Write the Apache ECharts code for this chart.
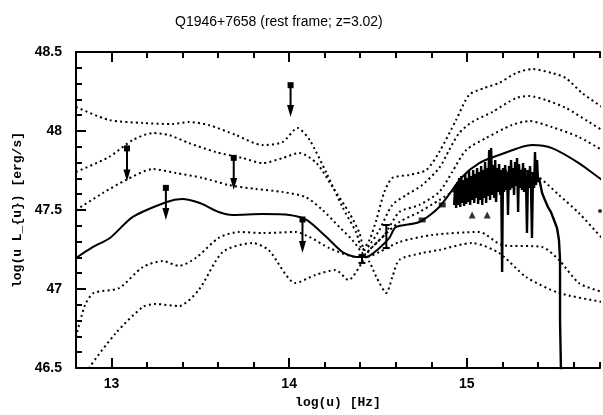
<!DOCTYPE html>
<html><head><meta charset="utf-8">
<script src="https://cdn.jsdelivr.net/npm/echarts@6/dist/echarts.min.js"></script>
<style>html,body{margin:0;padding:0;background:#fff}#c{width:603px;height:415px}</style>
</head><body><div id="c"></div>
<script>
const titleText = 'Q1946+7658 (rest frame; z=3.02)';
const xName = 'log(u) [Hz]';
const yName = 'log(u L_{u}) [erg/s]';
const xMajorTicks = [13, 14, 15];

const modelSolid = [[12.80,47.196],[12.896,47.266],[12.991,47.323],[13.12,47.456],[13.311,47.551],[13.396,47.570],[13.497,47.544],[13.603,47.487],[13.682,47.468],[13.85,47.474],[14.002,47.468],[14.098,47.437],[14.21,47.329],[14.30,47.234],[14.379,47.203],[14.435,47.203],[14.508,47.259],[14.564,47.323],[14.60,47.392],[14.733,47.424],[14.845,47.519],[14.974,47.709],[15.07,47.797],[15.182,47.848],[15.367,47.911],[15.48,47.892],[15.631,47.797],[15.761,47.69],[15.80,47.665]];

const modelA = [[12.80,48.152],[12.985,48.070],[13.176,48.051],[13.345,48.044],[13.435,48.057],[13.547,48.038],[13.699,47.975],[13.851,47.911],[13.963,47.930],[14.047,48.019],[14.115,47.943],[14.210,47.734],[14.300,47.519],[14.379,47.354],[14.412,47.247],[14.452,47.310],[14.491,47.437],[14.536,47.614],[14.581,47.703],[14.676,47.722],[14.772,47.753],[14.845,47.867],[14.940,48.070],[15.013,48.228],[15.098,48.272],[15.182,48.304],[15.278,48.367],[15.367,48.392],[15.480,48.367],[15.558,48.335],[15.648,48.241],[15.761,48.152],[15.80,48.12]];

const modelB = [[12.80,47.741],[12.985,47.835],[13.120,47.943],[13.233,47.987],[13.322,47.975],[13.435,47.924],[13.587,47.867],[13.738,47.829],[13.851,47.797],[13.963,47.829],[14.058,47.861],[14.154,47.797],[14.244,47.646],[14.339,47.481],[14.396,47.354],[14.424,47.247],[14.46,47.29],[14.508,47.373],[14.581,47.532],[14.660,47.595],[14.749,47.658],[14.845,47.766],[14.901,47.880],[14.957,47.987],[15.030,48.057],[15.143,48.120],[15.278,48.209],[15.351,48.222],[15.446,48.196],[15.558,48.146],[15.688,48.057],[15.761,48.006],[15.80,47.98]];

const modelC = [[12.80,47.500],[12.952,47.608],[13.081,47.690],[13.233,47.759],[13.362,47.734],[13.513,47.703],[13.660,47.658],[13.811,47.633],[13.963,47.614],[14.092,47.582],[14.188,47.500],[14.283,47.392],[14.356,47.310],[14.407,47.234],[14.452,47.171],[14.491,47.076],[14.547,46.975],[14.581,47.076],[14.620,47.184],[14.749,47.228],[14.845,47.247],[15.030,47.291],[15.182,47.228],[15.334,47.076],[15.519,46.975],[15.761,46.918],[15.80,46.91]];

const modelD = [[12.80,46.696],[12.851,46.899],[12.90,46.975],[13.042,47.006],[13.176,47.139],[13.289,47.177],[13.379,47.146],[13.474,47.196],[13.603,47.323],[13.716,47.361],[13.851,47.354],[14.036,47.361],[14.115,47.329],[14.227,47.259],[14.379,47.203],[14.435,47.203],[14.508,47.234],[14.620,47.297],[14.806,47.342],[15.070,47.361],[15.199,47.278],[15.424,47.266],[15.519,47.184],[15.631,47.038],[15.761,46.981],[15.80,46.97]];

const modelE = [[12.851,46.437],[12.873,46.50],[13.025,46.722],[13.176,46.886],[13.249,46.905],[13.379,46.892],[13.491,46.994],[13.626,47.234],[13.794,47.291],[13.884,47.247],[14.036,47.038],[14.148,47.089],[14.261,47.120],[14.334,47.057],[14.412,47.171],[14.452,47.247],[14.536,47.342],[14.620,47.487],[14.733,47.532],[14.845,47.614],[14.918,47.741],[14.997,47.880],[15.109,47.956],[15.255,48.038],[15.351,48.063],[15.480,48.025],[15.631,47.962],[15.761,47.880],[15.80,47.855]];

const modelF = [[14.424,47.215],[14.508,47.310],[14.620,47.424],[14.733,47.487],[14.845,47.563],[14.957,47.639],[15.070,47.703],[15.182,47.741],[15.294,47.753],[15.396,47.715],[15.519,47.595],[15.631,47.481],[15.761,47.323],[15.80,47.285]];

const upperLimits = [[13.087,47.89,47.68],[13.306,47.64,47.437],[14.008,48.29,48.089],[13.688,47.83,47.627],[14.075,47.44,47.228]];
const errPoints = [[14.547,47.332,0.073],[14.41,47.19,0.025]];
const squares = [[14.749,47.437],[14.862,47.532]];
const triangles = [[15.030,47.468],[15.115,47.468]];
const dots = [[15.75,47.494]];

const spectrum = [[14.929,47.532],[14.935,47.658],[14.940,47.513],[14.946,47.677],[14.952,47.532],[14.957,47.703],[14.963,47.519],[14.969,47.715],[14.974,47.544],[14.980,47.690],[14.985,47.525],[14.991,47.728],[14.997,47.538],[15.002,47.703],[15.008,47.551],[15.013,47.747],[15.019,47.532],[15.025,47.715],[15.030,47.563],[15.036,47.753],[15.042,47.544],[15.047,47.728],[15.053,47.576],[15.058,47.766],[15.064,47.538],[15.070,47.741],[15.075,47.563],[15.081,47.778],[15.087,47.532],[15.092,47.753],[15.098,47.576],[15.103,47.804],[15.109,47.544],[15.115,47.766],[15.120,47.589],[15.126,47.880],[15.131,47.563],[15.137,47.892],[15.143,47.595],[15.148,47.785],[15.154,47.576],[15.160,47.816],[15.165,47.551],[15.171,47.766],[15.176,47.614],[15.182,47.791],[15.188,47.595],[15.193,47.753],[15.199,47.108],[15.204,47.766],[15.210,47.614],[15.216,47.785],[15.221,47.627],[15.227,47.741],[15.232,47.468],[15.238,47.778],[15.244,47.627],[15.249,47.816],[15.255,47.639],[15.261,47.766],[15.266,47.595],[15.272,47.804],[15.278,47.652],[15.283,47.829],[15.289,47.487],[15.294,47.791],[15.300,47.639],[15.306,47.753],[15.311,47.627],[15.317,47.797],[15.322,47.614],[15.328,47.766],[15.334,47.652],[15.339,47.354],[15.345,47.753],[15.351,47.639],[15.356,47.778],[15.362,47.627],[15.367,47.323],[15.373,47.741],[15.379,47.639],[15.384,47.867],[15.390,47.658],[15.396,47.816],[15.401,47.677],[15.407,47.703],[15.424,47.608],[15.440,47.563],[15.457,47.519],[15.474,47.487],[15.491,47.437],[15.508,47.386],[15.519,47.310],[15.525,47.184],[15.525,46.804],[15.530,46.500],[15.530,46.361]];

const X_MIN = 12.8, X_MAX = 15.75;
const BLACK = '#000';
const TICK = '#000';
const tickFont = {color: BLACK, fontFamily: 'Liberation Sans, Arial, sans-serif', fontWeight: 'bold', fontSize: 14};
const nameFont = {color: BLACK, fontFamily: 'Liberation Mono, Courier New, monospace', fontWeight: 'bold', fontSize: 13};

function xAx(pos, major) {
  const a = {
    type: 'value', min: X_MIN, max: X_MAX, position: pos,
    axisLine: {show: !major, lineStyle: {color: BLACK, width: 2}},
    axisTick: {show: true, inside: true, length: major ? 10 : 6, lineStyle: {color: TICK, width: 2}},
    axisLabel: {show: false},
    splitLine: {show: false}
  };
  if (major) a.axisTick.customValues = xMajorTicks;
  else a.interval = 0.2;
  return a;
}
const xAxes = [xAx('bottom', false), xAx('bottom', true), xAx('top', false), xAx('top', true)];
xAxes[0].axisLabel = {show: true, margin: 9, ...tickFont,
  formatter: v => (Math.abs(v - Math.round(v)) < 1e-6 ? String(Math.round(v)) : '')};
xAxes[1].name = xName;
xAxes[1].nameLocation = 'middle';
xAxes[1].nameGap = 28;
xAxes[1].nameTextStyle = nameFont;

function dotted(data) {
  return {type: 'line', data, showSymbol: false, smooth: 0.25, silent: true,
    lineStyle: {color: BLACK, width: 2, type: [2, 3.2]}};
}

function renderLimit(params, api) {
  const p0 = api.coord([api.value(0), api.value(1)]);
  const p1 = api.coord([api.value(0), api.value(2)]);
  return {type: 'group', children: [
    {type: 'line', shape: {x1: p0[0], y1: p0[1], x2: p1[0], y2: p1[1] - 6}, style: {stroke: BLACK, lineWidth: 2}},
    {type: 'rect', shape: {x: p0[0] - 3, y: p0[1] - 3, width: 6, height: 6}, style: {fill: BLACK}},
    {type: 'polygon', shape: {points: [[p1[0], p1[1]], [p1[0] - 3.5, p1[1] - 12], [p1[0] + 3.5, p1[1] - 12]]}, style: {fill: BLACK}}
  ]};
}
function renderErr(params, api) {
  const x = api.value(0), y = api.value(1), e = api.value(2);
  const a = api.coord([x, y + e]);
  const b = api.coord([x, y - e]);
  return {type: 'group', children: [
    {type: 'line', shape: {x1: a[0], y1: a[1], x2: b[0], y2: b[1]}, style: {stroke: BLACK, lineWidth: 2}},
    {type: 'line', shape: {x1: a[0] - 3.5, y1: a[1], x2: a[0] + 3.5, y2: a[1]}, style: {stroke: BLACK, lineWidth: 2}},
    {type: 'line', shape: {x1: b[0] - 3.5, y1: b[1], x2: b[0] + 3.5, y2: b[1]}, style: {stroke: BLACK, lineWidth: 2}}
  ]};
}

const chart = echarts.init(document.getElementById('c'));
chart.setOption({
  animation: false,
  title: {text: titleText, left: 170, top: 10,
    textStyle: {color: BLACK, fontFamily: 'Liberation Sans, Arial, sans-serif', fontWeight: 'normal', fontSize: 14}},
  grid: {left: 76, right: 0, top: 52, bottom: 47},
  xAxis: xAxes,
  yAxis: [{
    type: 'value', min: 46.5, max: 48.5, interval: 0.5,
    axisLine: {show: true, lineStyle: {color: BLACK, width: 2}},
    axisTick: {show: true, inside: true, length: 10, lineStyle: {color: TICK, width: 2}},
    minorTick: {show: true, splitNumber: 5, length: 6, lineStyle: {color: TICK, width: 2}},
    axisLabel: {show: true, margin: 14, ...tickFont},
    splitLine: {show: false},
    name: yName, nameLocation: 'middle', nameGap: 48, nameTextStyle: nameFont
  }],
  series: [
    dotted(modelA), dotted(modelB), dotted(modelC), dotted(modelD), dotted(modelE), dotted(modelF),
    {type: 'line', data: modelSolid, showSymbol: false, smooth: 0.25,
      lineStyle: {color: BLACK, width: 2}},
    {type: 'line', data: spectrum, showSymbol: false,
      lineStyle: {color: BLACK, width: 2.4}},
    {type: 'scatter', data: squares, symbol: 'rect', symbolSize: [7, 5], itemStyle: {color: BLACK}},
    {type: 'scatter', data: triangles, symbol: 'triangle', symbolSize: 7, itemStyle: {color: BLACK}},
    {type: 'scatter', data: dots, symbol: 'circle', symbolSize: 4, itemStyle: {color: BLACK}},
    {type: 'custom', data: upperLimits, renderItem: renderLimit, encode: {x: 0, y: [1, 2]}},
    {type: 'custom', data: errPoints, renderItem: renderErr, encode: {x: 0, y: 1}}
  ]
});
</script></body></html>
